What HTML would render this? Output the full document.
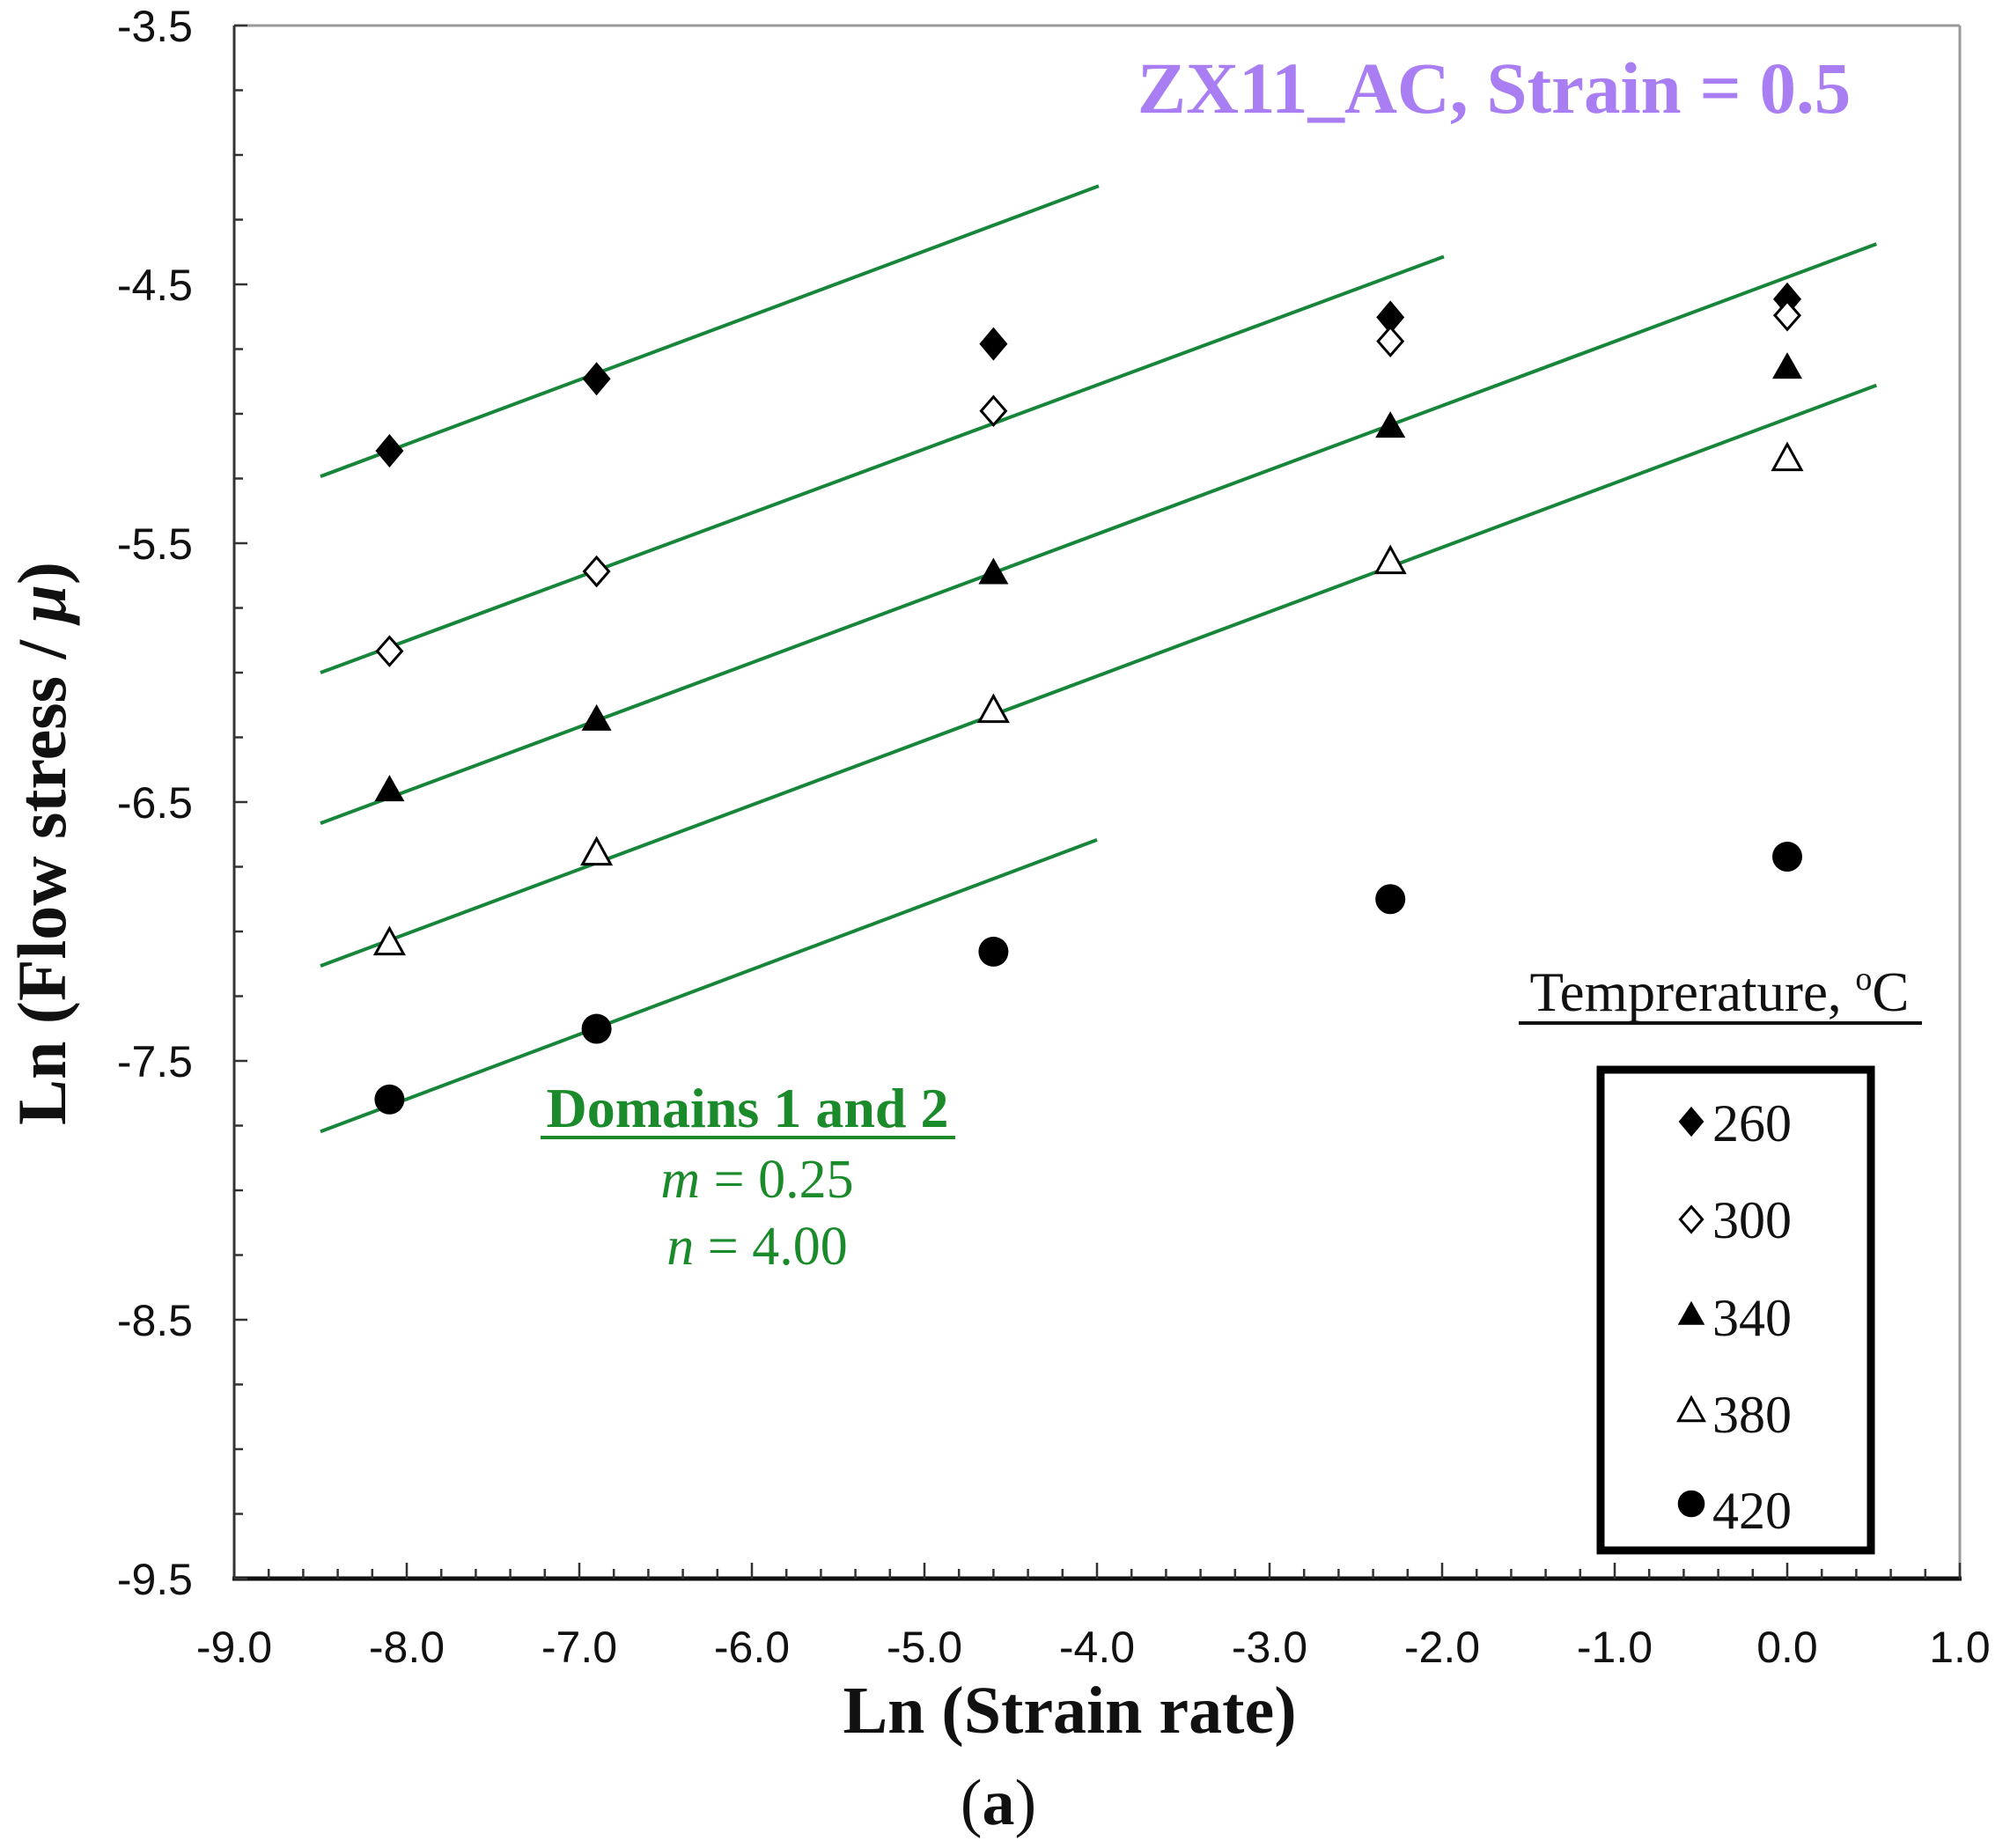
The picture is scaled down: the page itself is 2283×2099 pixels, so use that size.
<!DOCTYPE html>
<html><head><meta charset="utf-8"><style>html,body{margin:0;padding:0;background:#fff}svg{display:block}</style></head>
<body>
<svg id="s" xmlns="http://www.w3.org/2000/svg" width="2283" height="2099" viewBox="0 0 2283 2099">
<rect width="2283" height="2099" fill="#fff"/>
<g id="g"></g>
<text x="1697" y="128" font-family="Liberation Serif, serif" font-weight="bold" font-size="83" fill="#a97ef2" text-anchor="middle">ZX11_AC, Strain = 0.5</text>
<text x="1953" y="1148" font-family="Liberation Serif, serif" font-size="63" fill="#111" text-anchor="middle">Temprerature, <tspan font-size="38" dy="-24">o</tspan><tspan dy="24">C</tspan></text>
<line x1="1725" y1="1162" x2="2183" y2="1162" stroke="#111" stroke-width="4"/>
<rect x="1818" y="1215" width="307" height="546" fill="none" stroke="#000" stroke-width="9"/>
<g font-family="Liberation Serif, serif" font-size="60" fill="#111">
<text x="1945" y="1296">260</text>
<text x="1945" y="1406">300</text>
<text x="1945" y="1517">340</text>
<text x="1945" y="1627">380</text>
<text x="1945" y="1736">420</text>
</g>
<g font-family="Liberation Serif, serif" fill="#1a8a2a" text-anchor="middle">
<text x="849" y="1280" font-size="64" font-weight="bold">Domains 1 and 2</text>
<line x1="614" y1="1292" x2="1085" y2="1292" stroke="#1a8a2a" stroke-width="4"/>
<text x="860" y="1360" font-size="62"><tspan font-style="italic">m</tspan> = 0.25</text>
<text x="860" y="1436" font-size="62"><tspan font-style="italic">n</tspan>  = 4.00</text>
</g>
<text x="1215" y="1968" font-family="Liberation Serif, serif" font-weight="bold" font-size="76" text-anchor="middle" fill="#111">Ln (Strain rate)</text>
<text x="1134" y="2072" font-family="Liberation Serif, serif" font-size="74" text-anchor="middle" fill="#111">(<tspan font-weight="bold">a</tspan>)</text>
<text transform="translate(74,958) rotate(-90)" font-family="Liberation Serif, serif" font-weight="bold" font-size="78" text-anchor="middle" fill="#111">Ln (Flow stress / <tspan font-style="italic">μ</tspan>)</text>
</svg>
<script>
var NS="http://www.w3.org/2000/svg",g=document.getElementById('g');
function X(v){return 266+(v+9)*196.0}
function Y(v){return 29+(-3.5-v)*294.0}
function el(t,a){var e=document.createElementNS(NS,t);for(var k in a)e.setAttribute(k,a[k]);g.appendChild(e);return e}
var R=X(1),B=Y(-9.5);
el('line',{x1:266,y1:29,x2:R,y2:29,stroke:'#999',"stroke-width":3});
el('line',{x1:R,y1:29,x2:R,y2:B,stroke:'#999',"stroke-width":3});
el('line',{x1:266,y1:29,x2:266,y2:B,stroke:'#333',"stroke-width":3});
el('line',{x1:264,y1:B,x2:R+2,y2:B,stroke:'#111',"stroke-width":5});
for(var v=-3.5;v>=-9.5;v-=0.25){var y=Y(v);var maj=Math.abs((v+3.5)%1)<1e-6;el('line',{x1:266,y1:y,x2:266+(maj?15:10),y2:y,stroke:'#333',"stroke-width":2.5});}
for(var i=0;i<=50;i++){var v=-9+i*0.2;var x=X(v);var maj=i%5==0;el('line',{x1:x,y1:B,x2:x,y2:B-(maj?18:11),stroke:'#333',"stroke-width":2.5});}
['-3.5','-4.5','-5.5','-6.5','-7.5','-8.5','-9.5'].forEach(function(s){var t=el('text',{x:219,y:Y(+s)+18,"font-family":"Liberation Sans, sans-serif","font-size":50,"text-anchor":"end",fill:'#111'});t.textContent=s;});
['-9.0','-8.0','-7.0','-6.0','-5.0','-4.0','-3.0','-2.0','-1.0','0.0','1.0'].forEach(function(s){var t=el('text',{x:X(+s),y:1888,"font-family":"Liberation Sans, sans-serif","font-size":50,"text-anchor":"middle",fill:'#111'});t.textContent=s;});
[[-8.5,-5.242,-3.99,-4.12],[-8.5,-6.0,-1.99,-4.393],[-8.5,-6.582,0.517,-4.344],[-8.5,-7.133,0.517,-4.89],[-8.5,-7.773,-4.0,-6.646]].forEach(function(l){el('line',{x1:X(l[0]),y1:Y(l[1]),x2:X(l[2]),y2:Y(l[3]),stroke:'#17853a',"stroke-width":4});});
function mk(type,x,y,s){s=s||1;
 if(type==0)el('polygon',{points:[x,y-19*s,x+16*s,y,x,y+19*s,x-16*s,y].join(' '),fill:'#000'});
 if(type==1)el('polygon',{points:[x,y-16*s,x+14*s,y,x,y+16*s,x-14*s,y].join(' '),fill:'#fff',stroke:'#000',"stroke-width":3});
 if(type==2)el('polygon',{points:[x,y-17*s,x+17*s,y+13*s,x-17*s,y+13*s].join(' '),fill:'#000'});
 if(type==3)el('polygon',{points:[x,y-16*s,x+16*s,y+13*s,x-16*s,y+13*s].join(' '),fill:'#fff',stroke:'#000',"stroke-width":3});
 if(type==4)el('circle',{cx:x,cy:y,r:17*s,fill:'#000'});
}
var xs=[-8.1,-6.9,-4.6,-2.3,0];
var d=[[-5.143,-4.865,-4.73,-4.627,-4.557],[-5.917,-5.609,-4.989,-4.72,-4.62],[-6.453,-6.18,-5.614,-5.048,-4.82],[-7.043,-6.696,-6.145,-5.57,-5.172],[-7.649,-7.376,-7.078,-6.875,-6.711]];
d.forEach(function(r,t){r.forEach(function(v,i){mk(t,X(xs[i]),Y(v));});});
[1274,1385,1493,1602,1708].forEach(function(y,t){mk(t,1921,y,0.9);});
</script>
</body></html>
